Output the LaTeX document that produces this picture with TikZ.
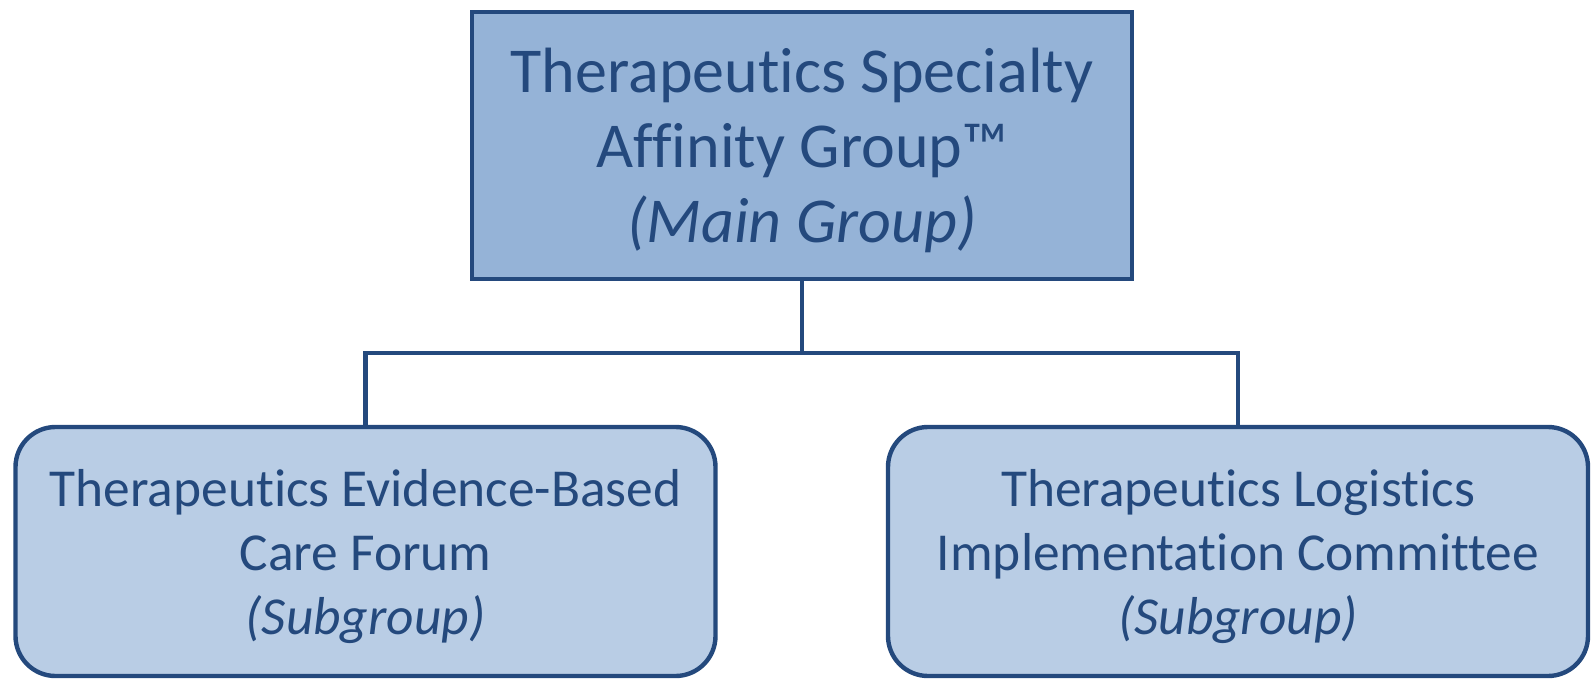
\documentclass[tikz,border=0pt]{standalone}
\usepackage{fontspec}
\setmainfont[Ligatures=NoCommon]{Carlito}
\usepackage{tikz}
\usepackage{xcolor}
\usetikzlibrary{positioning}
\definecolor{navy}{HTML}{24497D}
\definecolor{mainfill}{HTML}{95B3D7}
\definecolor{subfill}{HTML}{B9CDE5}
\tikzset{%
	maingroup/.style = {draw=navy, fill=mainfill, line width=2.2pt, rectangle, minimum width=330pt, minimum height=133.5pt, text=navy, align=center, text depth=0pt, font=\fontsize{32}{37.5}\selectfont},
	subgroup/.style  = {draw=navy, fill=subfill, line width=2.2pt, rectangle, rounded corners=20pt, minimum width=350pt, minimum height=124.5pt, text=navy, align=center, text depth=0pt, font=\fontsize{26.7}{32}\selectfont},
	waypoint/.style  = {coordinate},
	link/.style      = {draw=navy, line width=2.2pt},
}
\begin{document}
\begin{tikzpicture}
	\useasboundingbox (0,0) rectangle (795.5pt,-340.5pt);
	\node[maingroup] (main) at (401pt,-72.75pt) {Therapeutics Specialty\\Affinity Group™\\\textit{(Main Group)}};
	\node[waypoint,below of=main,node distance=103.75pt] (bus) {};
	\node[subgroup,below of=main,node distance=203pt,xshift=-218.25pt] (ebc) {Therapeutics Evidence-Based\\Care Forum\\\textit{(Subgroup)}};
	\node[subgroup,below of=main,node distance=203pt,xshift=218pt] (lic) {Therapeutics Logistics\\Implementation Committee\\\textit{(Subgroup)}};
	
	\draw[link] (main) -- (bus);
	\draw[link] (bus) -| (ebc);
	\draw[link] (bus) -| (lic);
	\end{tikzpicture}
\end{document}
